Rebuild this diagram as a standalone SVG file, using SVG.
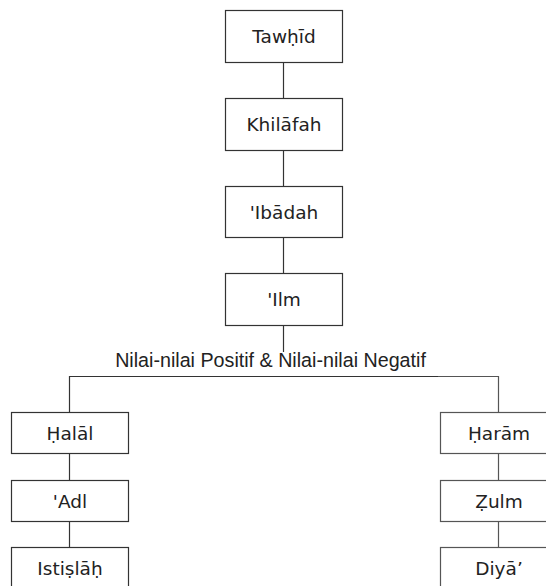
<svg xmlns="http://www.w3.org/2000/svg" width="546" height="586" viewBox="0 0 546 586">
<style>
.box{fill:#fff;stroke:#333;stroke-width:1.2}
.boxr{fill:#fff;stroke:#555;stroke-width:1.2}
.lbl{font-family:"DejaVu Sans",Verdana,sans-serif;font-size:18.5px;fill:#222;text-anchor:middle}
.ln{stroke:#333;stroke-width:1.2;fill:none}
.lnr{stroke:#555;stroke-width:1.2;fill:none}
.hd{font-family:"Liberation Sans",Arial,sans-serif;font-size:19.7px;fill:#222;text-anchor:middle}
</style>
<rect width="546" height="586" fill="#fff"/>
<g id="connectors">
<line class="ln" x1="283.5" y1="62" x2="283.5" y2="98"/>
<line class="ln" x1="283.5" y1="150" x2="283.5" y2="186"/>
<line class="ln" x1="283.5" y1="237" x2="283.5" y2="273"/>
<line class="ln" x1="283.5" y1="326" x2="283.5" y2="352"/>
<polyline class="ln" points="69.5,412 69.5,376.5 438,376.5"/>
<polyline class="lnr" points="438,376.5 498.5,376.5 498.5,412"/>
<line class="ln" x1="69.5" y1="454" x2="69.5" y2="480"/>
<line class="ln" x1="69.5" y1="521" x2="69.5" y2="547"/>
<line class="lnr" x1="498.5" y1="454" x2="498.5" y2="480"/>
<line class="lnr" x1="498.5" y1="521" x2="498.5" y2="547"/>
</g>
<text class="hd" x="270.5" y="367">Nilai-nilai Positif &amp; Nilai-nilai Negatif</text>
<g id="tawhid"><rect class="box" x="225.5" y="10.5" width="117" height="52"/><text class="lbl" x="284" y="43">Tawḥīd</text></g>
<g id="khilafah"><rect class="box" x="225.5" y="98.5" width="117" height="52"/><text class="lbl" x="284" y="131">Khilāfah</text></g>
<g id="ibadah"><rect class="box" x="225.5" y="186.5" width="117" height="51"/><text class="lbl" x="284" y="218.5">'Ibādah</text></g>
<g id="ilm"><rect class="box" x="225.5" y="273.5" width="117" height="52"/><text class="lbl" x="284" y="306">'Ilm</text></g>
<g id="halal"><rect class="box" x="11.5" y="412.5" width="117" height="41"/><text class="lbl" x="70" y="440">Ḥalāl</text></g>
<g id="adl"><rect class="box" x="11.5" y="480.5" width="117" height="41"/><text class="lbl" x="70" y="508">'Adl</text></g>
<g id="istislah"><rect class="box" x="11.5" y="547.5" width="117" height="50"/><text class="lbl" x="70" y="575">Istiṣlāḥ</text></g>
<g id="haram"><rect class="boxr" x="440.5" y="412.5" width="117" height="41"/><text class="lbl" x="499" y="440">Ḥarām</text></g>
<g id="zulm"><rect class="boxr" x="440.5" y="480.5" width="117" height="41"/><text class="lbl" x="499" y="508">Ẓulm</text></g>
<g id="diya"><rect class="boxr" x="440.5" y="547.5" width="117" height="50"/><text class="lbl" x="499" y="575">Diyā’</text></g>
</svg>
